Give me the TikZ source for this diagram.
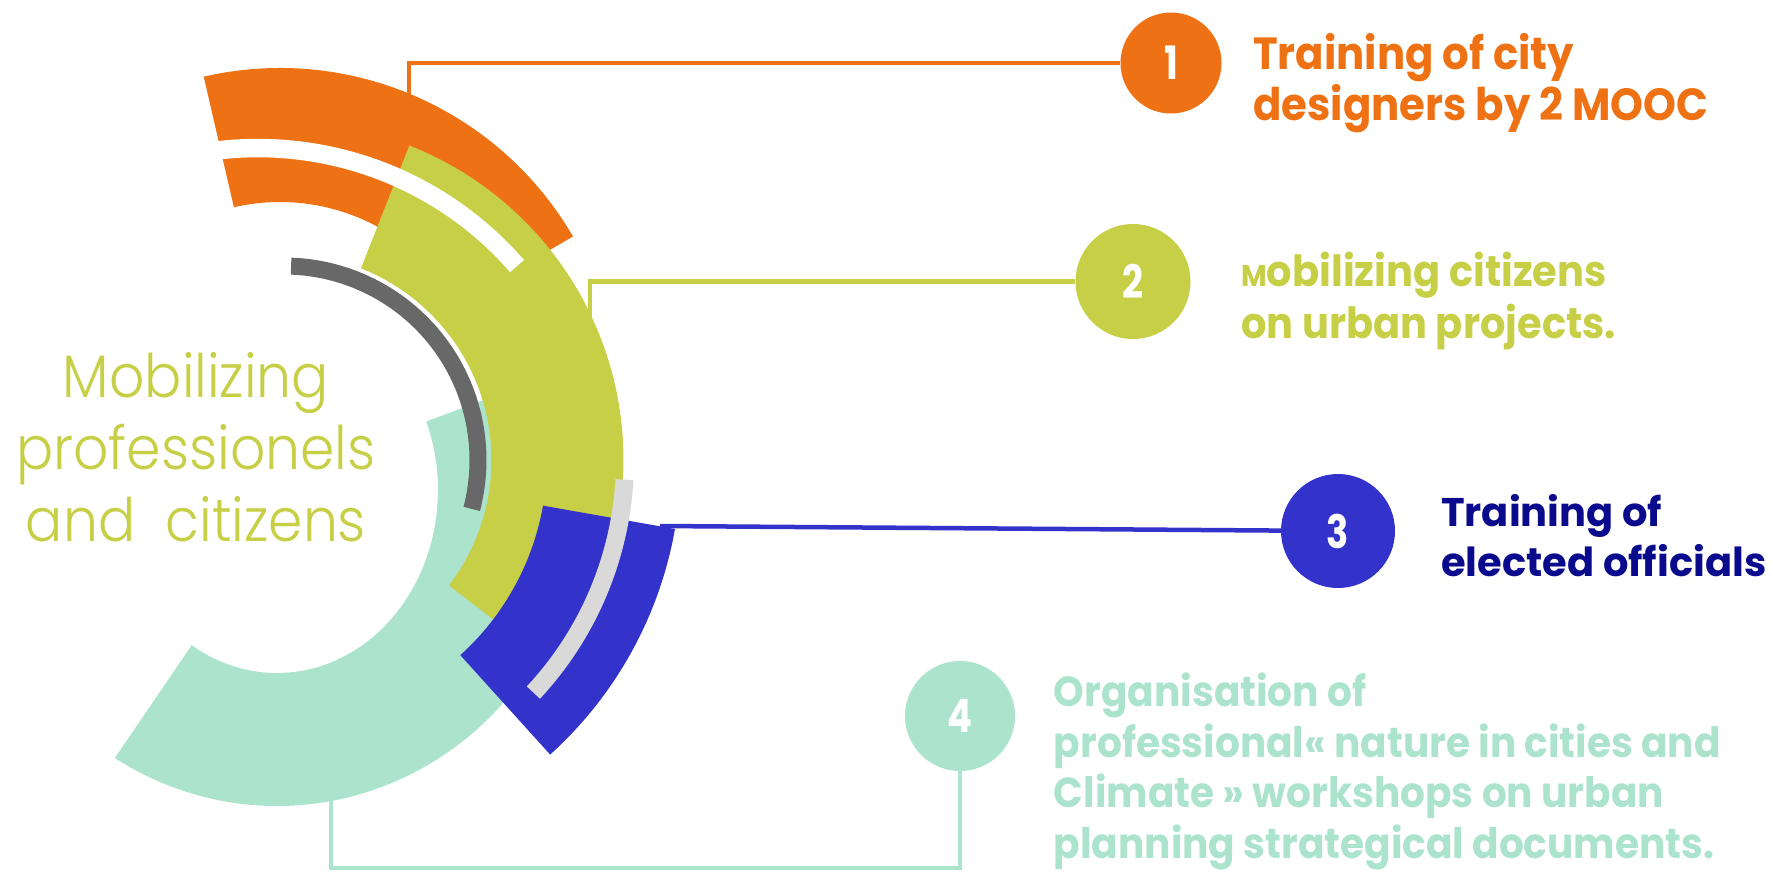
\documentclass[tikz,border=0pt]{standalone}
\usepackage{fontspec}
\setmainfont{Poppins}
\newfontfamily\thinfont{Poppins}[UprightFont=* Light, FakeStretch=0.92]
\newfontfamily\labelfont{Poppins}[FakeStretch=0.93]
\newfontfamily\numfont{Poppins}[FakeStretch=0.8]
\usetikzlibrary{positioning}

\definecolor{orng}{RGB}{238,113,19}
\definecolor{lime}{RGB}{198,207,70}
\definecolor{mint}{RGB}{172,227,204}
\definecolor{royal}{RGB}{51,51,204}
\definecolor{navy}{RGB}{10,10,140}
\definecolor{ringgray}{RGB}{104,104,104}
\definecolor{palegray}{RGB}{217,217,217}

\tikzset{
  numdot/.style={circle, inner sep=0pt, text=white, font=\numfont\bfseries\fontsize{46}{46}\selectfont},
  linkline/.style={line width=4.5pt},
  blurb/.style={anchor=base west, align=left, inner sep=0pt, font=\labelfont\bfseries\fontsize{44}{51.5}\selectfont},
}

% center, inner r, outer r, start, end, colour
\newcommand{\ringpart}[6]{%
  \fill[#6, shift={(#1)}] (#4:#3) arc[start angle=#4, end angle=#5, radius=#3]
    -- (#5:#2) arc[start angle=#5, end angle=#4, radius=#2] -- cycle;}

\begin{document}
\begin{tikzpicture}[x=1pt,y=-1pt]
  \useasboundingbox (0,0) rectangle (1773,871);
  % rings
  \fill[mint, shift={(277,490)}] (-22:306 and 316) arc[start angle=-22, end angle=122, x radius=306, y radius=316]
    -- (122:161 and 183) arc[start angle=122, end angle=-22, x radius=161, y radius=183] -- cycle;
  \ringpart{280,407}{205}{339}{-103}{-30.2}{orng}
  \ringpart{285.5,460}{206}{338}{-68.5}{37.5}{lime}
  \ringpart{258,491.3}{334}{352.5}{-118}{-41}{white}
  \ringpart{284,460}{263}{397}{10}{47.9}{royal}
  \ringpart{284,460}{185.5}{202.5}{-87.9}{14.6}{ringgray}
  \ringpart{284,460}{332}{350}{3.3}{43}{palegray}

  % numbered dots
  \node[numdot, fill=orng, minimum size=101pt] (c1) at (1171,63) {1};
  \node[numdot, fill=lime, minimum size=115pt] (c2) at (1133,281.5) {2};
  \node[numdot, fill=royal, minimum size=114pt] (c3) at (1338,531) {3};
  \node[numdot, fill=mint, minimum size=110pt] (c4) at (960,716) {4};

  % connectors
  \coordinate (o1) at (409,94);
  \coordinate (g1) at (590,318);
  \coordinate (b1) at (660,526);
  \coordinate (m1) at (331,800);
  \draw[linkline, orng] (o1) |- (c1);
  \draw[linkline, lime] (g1) |- (c2);
  \draw[linkline, royal] (b1) -- (c3);
  \draw[linkline, mint] (m1) -- ++(0,68) -| (c4);

  % texts (anchored at the last baseline)
  \node[blurb, text=orng, font=\labelfont\bfseries\fontsize{45}{51.7}\selectfont] (t1) at (1253,120.7) {Training of city\\designers by 2 MOOC};
  \node[blurb, text=lime, font=\labelfont\bfseries\fontsize{43}{51.3}\selectfont] (t2) at (1241,338) {{\fontsize{30}{30}\selectfont M}obilizing citizens\\on urban projects.};
  \node[blurb, text=navy, font=\bfseries\fontsize{40}{50}\selectfont] (t3) at (1441,576.7) {Training of\\elected officials};
  \node[blurb, text=mint, font=\labelfont\bfseries\fontsize{42}{50.5}\selectfont] (t4) at (1053.7,858) {Organisation of\\professional« nature in cities and\\Climate » workshops on urban\\planning strategical documents.};
  \node[anchor=base, align=center, inner sep=0pt, text=lime, font=\thinfont\fontsize{60}{72}\selectfont] (hub) at (196,541.7) {Mobilizing\\professionels\\and\ \ citizens};
\end{tikzpicture}
\end{document}
